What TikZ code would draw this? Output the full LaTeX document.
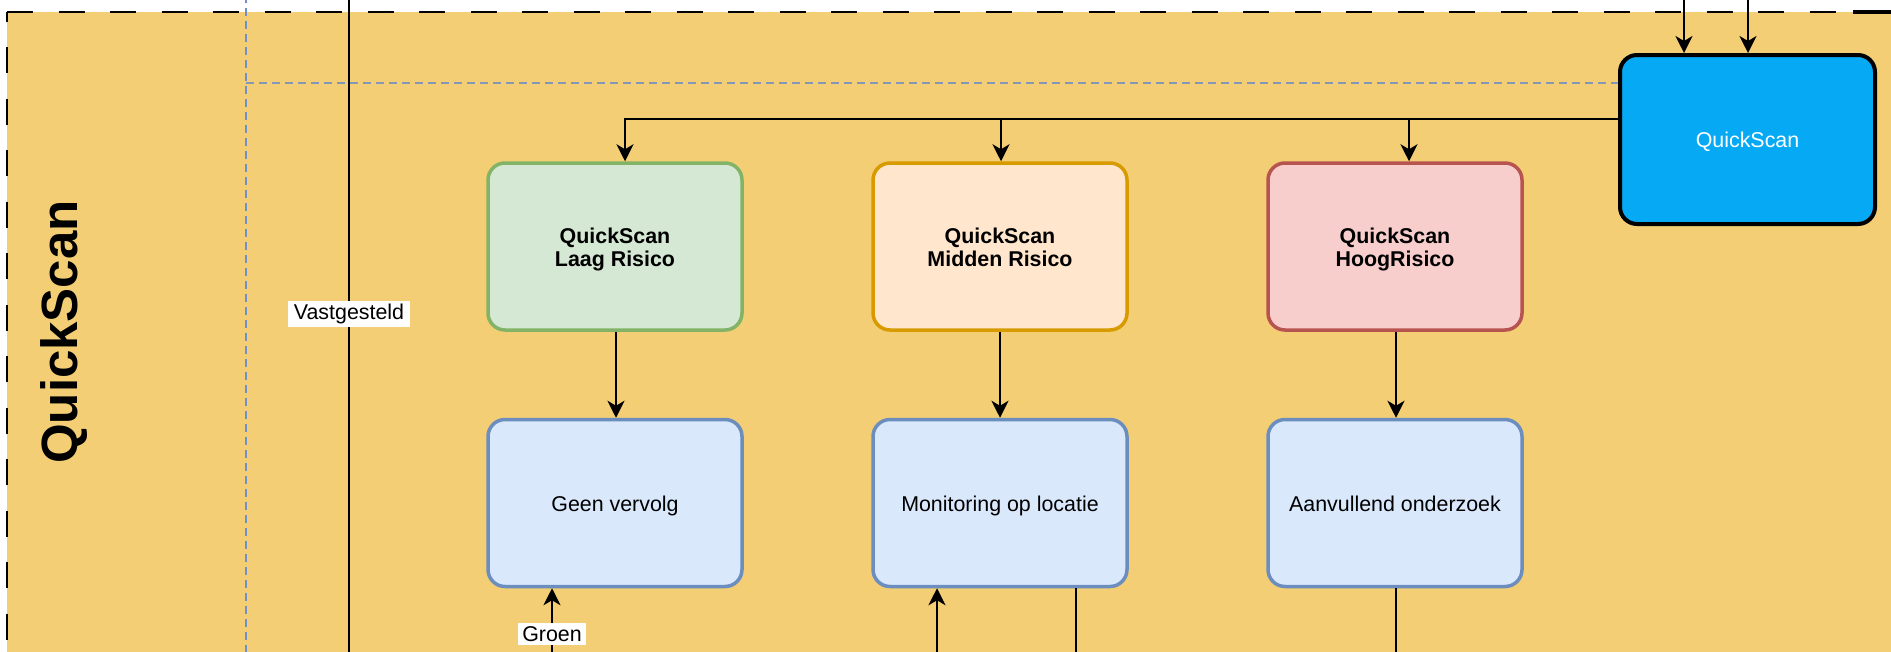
\documentclass[tikz,border=0pt]{standalone}
\usepackage{fontspec}
\setmainfont{Liberation Sans}
\usetikzlibrary{arrows.meta}
\definecolor{pool}{HTML}{F3CE74}
\definecolor{gfill}{HTML}{D5E8D4}\definecolor{gdraw}{HTML}{82B366}
\definecolor{ofill}{HTML}{FFE6CC}\definecolor{odraw}{HTML}{D79B00}
\definecolor{rfill}{HTML}{F8CECC}\definecolor{rdraw}{HTML}{B85450}
\definecolor{bfill}{HTML}{DAE8FC}\definecolor{bdraw}{HTML}{6C8EBF}
\definecolor{qsfill}{HTML}{06A9F4}
\definecolor{lanev}{HTML}{6E91CD}
\definecolor{laneh}{HTML}{8497B8}
\newcommand{\dntxt}[1]{\raisebox{-3.6pt}[\height][\depth]{\begin{tabular}{@{}c@{}}#1\end{tabular}}}
\begin{document}
\begin{tikzpicture}[x=1pt,y=-1pt,
  txt/.style={font=\fontsize{21.4}{23.5}\selectfont},
  box/.style={txt, rounded corners=17pt, minimum width=254pt, minimum height=167pt,
    line width=3.5pt, inner sep=0pt},
  greenbox/.style={box, fill=gfill, draw=gdraw, font=\fontsize{21.4}{23.5}\selectfont\bfseries},
  orangebox/.style={box, fill=ofill, draw=odraw, font=\fontsize{21.4}{23.5}\selectfont\bfseries},
  redbox/.style={box, fill=rfill, draw=rdraw, font=\fontsize{21.4}{23.5}\selectfont\bfseries},
  bluebox/.style={box, fill=bfill, draw=bdraw},
  qsbox/.style={box, fill=qsfill, draw=black, line width=4pt, text=white,
    minimum width=255pt, minimum height=169pt},
  arr/.style={line width=2pt, -{Stealth[length=17pt, width=17pt, inset=5pt]}},
  plain/.style={line width=1.7pt},
  lbl/.style={txt, fill=white, inner xsep=5.5pt, inner ysep=3.5pt},
  lanesep/.style={line width=2pt, dash pattern=on 8pt off 5pt}]
\useasboundingbox (0,0) rectangle (1891,651);
\clip (0,0) rectangle (1891,651);
\fill[white] (0,0) rectangle (1891,651);
% pool
\fill[pool] (7,12) rectangle (1910,670);
\draw[line width=2.5pt, dash pattern=on 26pt off 25.5pt] (7,12) -- (1910,12);
\draw[line width=2.5pt, dash pattern=on 26pt off 25.5pt, dash phase=16.5pt] (7,12) -- (7,670);
\draw[line width=3.5pt] (1853,12) -- (1910,12);
\node[rotate=90, anchor=base, font=\fontsize{51}{55}\selectfont\bfseries] (pooltitle) at (77,332) {QuickScan};
% lane separators
\coordinate (lvt) at (246,-5);
\coordinate (lvb) at (246,670);
\coordinate (lh) at (246,83);
\draw[lanesep, draw=lanev] (lvt) -- (lvb);
% nodes
\node[qsbox] (qs) at (1747.5,139.5) {\dntxt{QuickScan}};
\draw[lanesep, draw=laneh] (lh) -- (qs.west |- lh);
\node[greenbox] (green) at (615,246.5) {\dntxt{QuickScan\\Laag Risico}};
\node[orangebox] (orange) at (1000,246.5) {\dntxt{QuickScan\\Midden Risico}};
\node[redbox] (red) at (1395,246.5) {\dntxt{QuickScan\\HoogRisico}};
\node[bluebox] (geen) at (615,503) {\dntxt{Geen vervolg}};
\node[bluebox] (mon) at (1000,503) {\dntxt{Monitoring op locatie}};
\node[bluebox] (aanv) at (1395,503) {\dntxt{Aanvullend onderzoek}};
% vertical black line with label
\coordinate (vtop) at (349,-5);
\coordinate (vbot) at (349,670);
\draw[plain] (vtop) -- (vbot);
\node[lbl] (vast) at (349,314) {Vastgesteld};
% arrows into QuickScan from above
\coordinate (t1) at (1684,-5);
\coordinate (t2) at (1748,-5);
\draw[arr] (t1) -- (qs.north -| t1);
\draw[arr] (t2) -- (qs.north -| t2);
% QuickScan to risk boxes
\coordinate (h) at (0,119);
\coordinate (gx) at (625,0);
\coordinate (ox) at (1001,0);
\coordinate (rx) at (1409,0);
\draw[arr] (qs.west |- h) -| (green.north -| gx);
\draw[arr] (qs.west |- h) -| (orange.north -| ox);
\draw[arr] (qs.west |- h) -| (red.north -| rx);
% risk boxes to outcomes
\coordinate (gd) at (616,0);
\coordinate (rd) at (1396,0);
\draw[arr] (green.south -| gd) -- (geen.north -| gd);
\draw[arr] (orange.south) -- (mon.north);
\draw[arr] (red.south -| rd) -- (aanv.north -| rd);
% bottom connectors
\coordinate (gb) at (552,670);
\draw[arr] (gb) -- (geen.south -| gb);
\node[lbl, inner xsep=4pt] (groen) at (552,634) {Groen};
\coordinate (mb) at (937,670);
\draw[arr] (mb) -- (mon.south -| mb);
\coordinate (m2) at (1076,670);
\draw[plain] (mon.south -| m2) -- (m2);
\coordinate (a2) at (1396,670);
\draw[plain] (aanv.south -| a2) -- (a2);
\end{tikzpicture}
\end{document}
